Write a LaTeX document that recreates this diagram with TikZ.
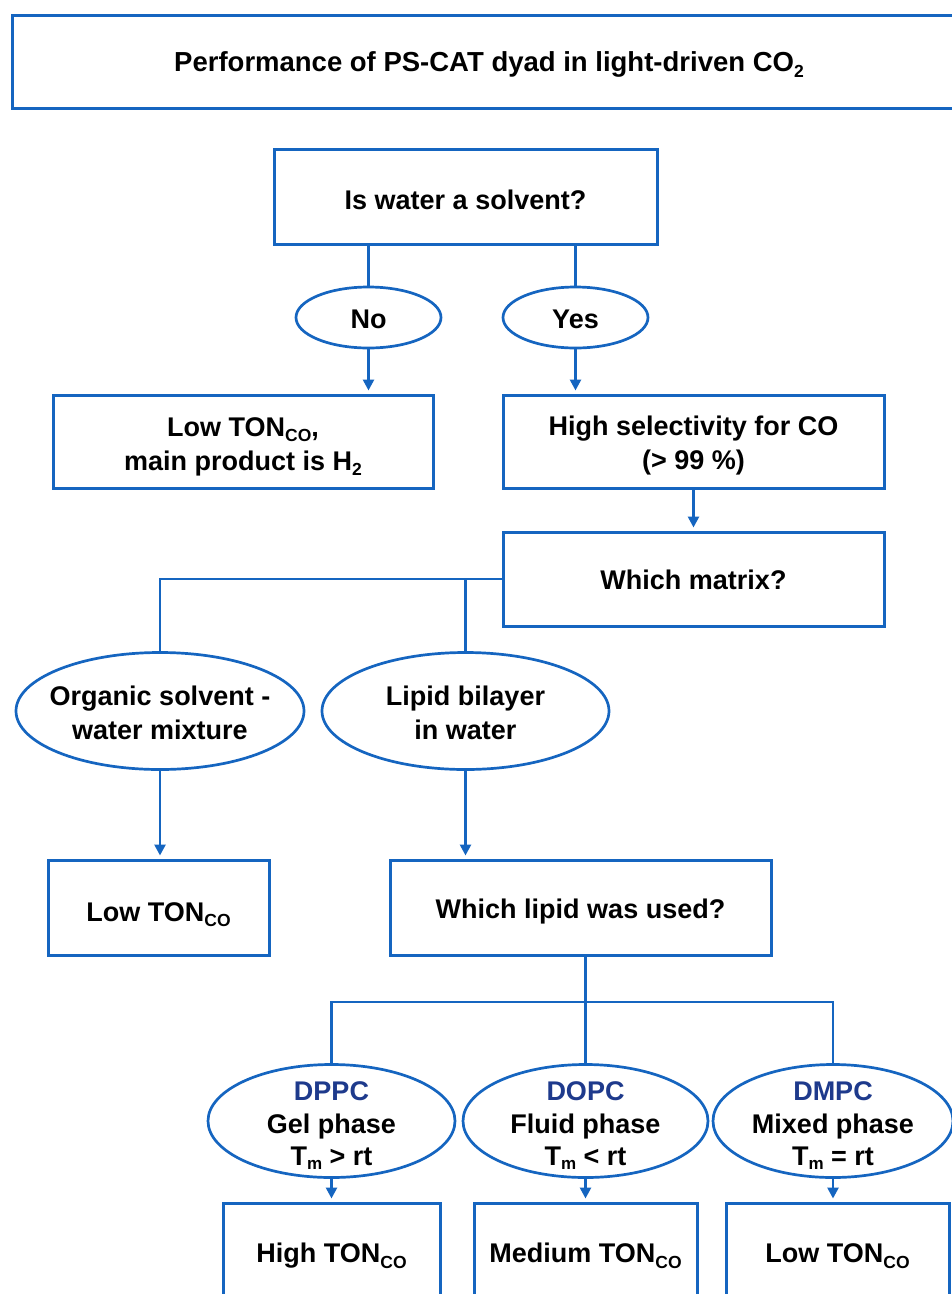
\documentclass[tikz,border=0pt]{standalone}
\usepackage{fontspec}
\setmainfont{Liberation Sans}
\usetikzlibrary{shapes.geometric,arrows.meta,calc}
\definecolor{lineblue}{RGB}{21,101,192}
\definecolor{lipblue}{RGB}{30,58,140}
\newcommand{\sbt}[1]{\raisebox{-5.5pt}{\fontsize{17.5}{17.5}\selectfont #1}}
\newcommand{\sbm}[1]{\raisebox{-4pt}{\fontsize{17}{17}\selectfont #1}}
\newcommand{\mfnt}{\fontsize{27}{34}\selectfont\bfseries}
\tikzset{
  box/.style={draw=lineblue, line width=3pt, rectangle, inner sep=0pt},
  oval/.style={draw=lineblue, line width=2.7pt, ellipse, inner sep=0pt},
  txt/.style={inner sep=0pt, align=center, font=\mfnt},
  lipt/.style={txt, font=\fontsize{27}{32.5}\selectfont\bfseries},
  conn/.style={draw=lineblue, line width=2.6pt},
  arr/.style={conn, -{Triangle[length=11pt,width=11pt]}, shorten >=3pt}
}
\begin{document}
\begin{tikzpicture}[x=1pt,y=-1pt]
\fill[white] (0,0) rectangle (952,1294);
\clip (0,0) rectangle (952,1294);
% title
\node[box, minimum width=954pt, minimum height=93pt] (title) at (489,61.5) {};
\node[txt, font=\fontsize{27.5}{34}\selectfont\bfseries, yshift=-3pt] at (title) {Performance of PS-CAT dyad in light-driven CO\sbt{2}};
% first question
\node[box, minimum width=383pt, minimum height=95pt] (q1) at (465.5,196.5) {};
\node[txt, yshift=-3pt] at (q1) {Is water a solvent?};
\node[oval, minimum width=145pt, minimum height=61pt] (no) at (368.5,317.5) {};
\node[txt, yshift=-2pt] at (no) {No};
\node[oval, minimum width=145pt, minimum height=61pt] (yes) at (575.5,317.5) {};
\node[txt, yshift=-2pt] at (yes) {Yes};
\node[box, minimum width=380pt, minimum height=93pt] (lowh2) at (243,441.5) {};
\node[txt, yshift=-5pt] at (lowh2) {Low TON\sbt{CO},\\main product is H\sbt{2}};
\node[box, minimum width=381pt, minimum height=93pt] (hisel) at (693.5,441.5) {};
\node[txt, yshift=-4pt] at (hisel) {High selectivity for CO\\(> 99 \%)};
\node[box, minimum width=381pt, minimum height=94pt] (matrix) at (693.5,579) {};
\node[txt, yshift=-1pt] at (matrix) {Which matrix?};
% matrix options
\node[oval, minimum width=288pt, minimum height=117pt] (org) at (160,711) {};
\node[txt, yshift=-2pt] at (org) {Organic solvent -\\water mixture};
\node[oval, minimum width=287pt, minimum height=117pt] (lip) at (465.5,711) {};
\node[txt, yshift=-2pt] at (lip) {Lipid bilayer\\in water};
\node[box, minimum width=221pt, minimum height=95pt] (lowton) at (158.5,907.5) {};
\node[txt, yshift=-7pt] at (lowton) {Low TON\sbt{CO}};
\node[box, minimum width=381pt, minimum height=95pt] (lipid) at (580.5,907.5) {};
\node[txt, yshift=-4pt] at (lipid) {Which lipid was used?};
% lipids
\node[oval, minimum width=247pt, minimum height=113pt] (dppc) at (331.5,1121) {};
\node[lipt, yshift=-5pt] at (dppc) {\textcolor{lipblue}{DPPC}\\Gel phase\\T\sbm{m} > rt};
\node[oval, minimum width=245pt, minimum height=113pt] (dopc) at (585.5,1121) {};
\node[lipt, yshift=-5pt] at (dopc) {\textcolor{lipblue}{DOPC}\\Fluid phase\\T\sbm{m} < rt};
\node[oval, minimum width=240pt, minimum height=113pt] (dmpc) at (833,1121) {};
\node[lipt, yshift=-5pt] at (dmpc) {\textcolor{lipblue}{DMPC}\\Mixed phase\\T\sbm{m} = rt};
\node[box, minimum width=217pt, minimum height=98pt] (high) at (331.5,1252) {};
\node[txt, yshift=-4pt] at (high) {High TON\sbt{CO}};
\node[box, minimum width=223pt, minimum height=98pt] (med) at (585.5,1252) {};
\node[txt, yshift=-4pt] at (med) {Medium TON\sbt{CO}};
\node[box, minimum width=223pt, minimum height=98pt] (lowb) at (837.5,1252) {};
\node[txt, yshift=-4pt] at (lowb) {Low TON\sbt{CO}};
% connectors
\draw[conn] (q1.south -| no.north) -- (no.north);
\draw[conn] (q1.south -| yes.north) -- (yes.north);
\draw[arr] (no.south) -- (no.south |- lowh2.north);
\draw[arr] (yes.south) -- (yes.south |- hisel.north);
\draw[arr] (hisel.south) -- (matrix.north);
\draw[conn] (matrix.west) -| (org.north);
\draw[conn] (matrix.west -| lip.north) -- (lip.north);
\draw[arr] (org.south) -- (org.south |- lowton.north);
\draw[arr] (lip.south) -- (lip.south |- lipid.north);
\coordinate (bj) at (585.5,1002);
\draw[conn] (lipid.south -| bj) -- (bj);
\draw[conn] (dppc.north) |- (bj) -| (dmpc.north);
\draw[conn] (bj) -- (dopc.north);
\draw[arr] (dppc.south) -- (dppc.south |- high.north);
\draw[arr] (dopc.south) -- (dopc.south |- med.north);
\draw[arr] (dmpc.south) -- (dmpc.south |- lowb.north);
\end{tikzpicture}
\end{document}
